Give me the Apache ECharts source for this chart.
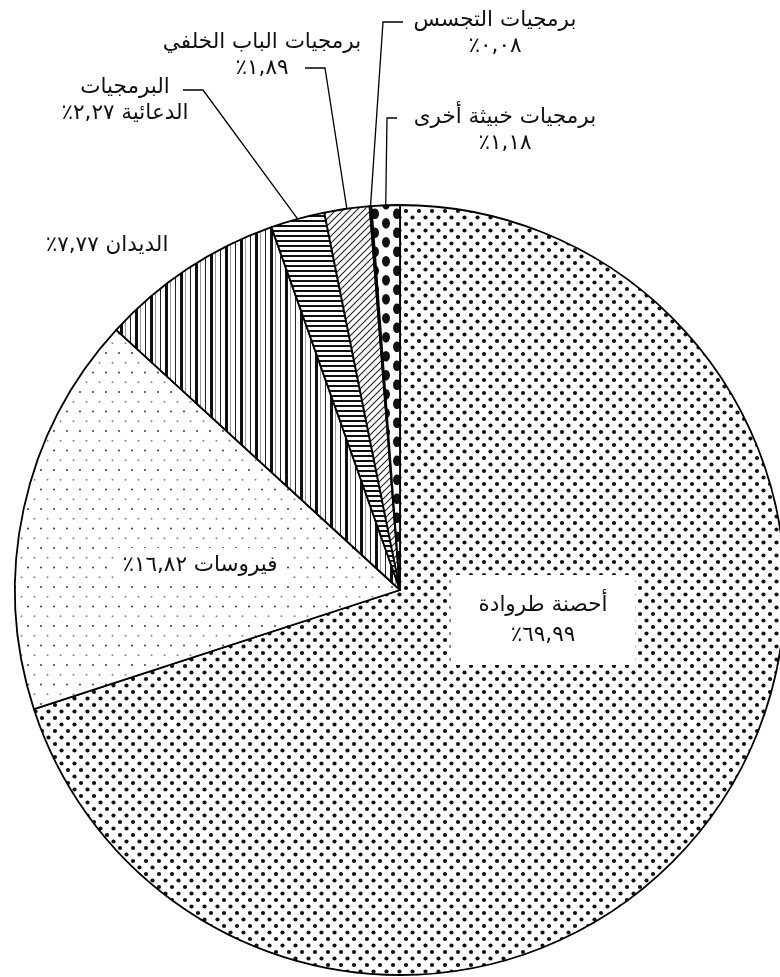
<!DOCTYPE html>
<html lang="ar">
<head>
<meta charset="utf-8">
<script src="https://cdn.jsdelivr.net/npm/echarts@6/dist/echarts.min.js"></script>
<style>
  html, body { margin: 0; padding: 0; background: #fff; }
  /* rtl so the canvas lays out the Arabic labels (and the ٪ sign) right-to-left */
  #chart { width: 780px; height: 977px; direction: rtl; }
</style>
</head>
<body>
<div id="chart"></div>
<script>
// malware share by type, % of detections
const NAMES = ['أحصنة طروادة', 'فيروسات', 'الديدان', 'البرمجيات الدعائية', 'برمجيات الباب الخلفي', 'برمجيات التجسس', 'برمجيات خبيثة أخرى'];
const VALUES = [69.99, 16.82, 7.77, 2.27, 1.89, 0.08, 1.18];
// label text per slice, {p} gets the percentage
const LABEL_TEXT = [
  'أحصنة طروادة\n{p}',
  'فيروسات {p}',
  'الديدان {p}',
  'البرمجيات\nالدعائية {p}',
  'برمجيات الباب الخلفي\n{p}',
  'برمجيات التجسس\n{p}',
  'برمجيات خبيثة أخرى\n{p}',
];

// where each label sits (centre), plus the leader bend / end relative to it
const LABEL_POS = [
  { x: 543, y: 620 },
  { x: 200, y: 565 },
  { x: 107, y: 245 },
  { x: 125, y: 100, line: [[78, -10], [58, -10]] },
  { x: 262, y: 55, line: [[63, 13], [43, 13]] },
  { x: 495, y: 33, line: [[-112, -11], [-92, -11]] },
  { x: 505, y: 130, line: [[-118, -12], [-108, -12]] },
];

function arNum(v) {
  return v.toFixed(2).replace('.', ',').replace(/\d/g, (d) => '٠١٢٣٤٥٦٧٨٩'[d]);
}

// --- fill patterns ---
function tile(w, h, draw) {
  const c = document.createElement('canvas');
  c.width = w; c.height = h;
  const ctx = c.getContext('2d');
  ctx.fillStyle = '#fff';
  ctx.fillRect(0, 0, w, h);
  draw(ctx);
  return { image: c, repeat: 'repeat' };
}
function dot(ctx, x, y, rx, ry, col) {
  ctx.fillStyle = col;
  ctx.beginPath();
  ctx.ellipse(x, y, rx, ry, 0, 0, Math.PI * 2);
  ctx.fill();
}

const PATTERNS = [
  // trojans: dense dots
  tile(13, 13, (ctx) => { dot(ctx, 3, 3, 2.1, 2.1, '#111'); dot(ctx, 9.5, 9.5, 2.1, 2.1, '#111'); }),
  // viruses: sparse fine dots
  tile(13, 39, (ctx) => {
    dot(ctx, 2, 2, 0.8, 1, '#111');
    dot(ctx, 8.5, 11.75, 1, 1, '#888');
    dot(ctx, 2, 21.5, 0.8, 1, '#111');
    dot(ctx, 8.5, 31.25, 1, 1, '#888');
  }),
  // worms: vertical stripes
  tile(15, 4, (ctx) => {
    ctx.fillStyle = '#111'; ctx.fillRect(0, 0, 3, 4);
    ctx.fillStyle = '#999'; ctx.fillRect(5, 0, 1, 4);
    ctx.fillStyle = '#222'; ctx.fillRect(10, 0, 1, 4);
  }),
  // adware: horizontal stripes
  tile(4, 5, (ctx) => { ctx.fillStyle = '#111'; ctx.fillRect(0, 0, 4, 2); }),
  // backdoor: diagonal hatch
  tile(7, 7, (ctx) => {
    ctx.strokeStyle = '#222'; ctx.lineWidth = 1.1;
    ctx.beginPath();
    ctx.moveTo(-1, 8); ctx.lineTo(8, -1);
    ctx.moveTo(-1, 1); ctx.lineTo(1, -1);
    ctx.moveTo(6, 8); ctx.lineTo(8, 6);
    ctx.stroke();
  }),
  // spyware
  '#fff',
  // other: big black dots
  tile(22, 19, (ctx) => {
    dot(ctx, 1, 4.75, 4, 5.3, '#111');
    dot(ctx, 23, 4.75, 4, 5.3, '#111');
    dot(ctx, 12, 14.25, 4, 5.3, '#111');
    dot(ctx, 12, -4.75, 4, 5.3, '#111');
    dot(ctx, 1, 23.75, 4, 5.3, '#111');
    dot(ctx, 23, 23.75, 4, 5.3, '#111');
  }),
];

const chart = echarts.init(document.getElementById('chart'), null, { renderer: 'canvas' });

const data = NAMES.map((name, i) => {
  const item = {
    name: name,
    value: VALUES[i],
    itemStyle: { color: PATTERNS[i] },
    labelLine: { show: !!LABEL_POS[i].line },
  };
  if (i === 0) {
    item.label = { backgroundColor: '#fff', padding: [15, 28], lineHeight: 30 };
  } else if (i === 1) {
    item.label = { backgroundColor: '#fff', padding: [4, 8] };
  }
  return item;
});

chart.setOption({
  animation: false,
  backgroundColor: '#fff',
  series: [{
    type: 'pie',
    silent: true,
    center: [400, 590],
    radius: 385,
    startAngle: 90,
    clockwise: true,
    avoidLabelOverlap: false,
    itemStyle: { borderColor: '#000', borderWidth: 1.8 },
    label: {
      show: true,
      position: 'outside',
      color: '#111',
      fontFamily: 'DejaVu Sans',
      fontSize: 21.5,
      lineHeight: 26,
      formatter: (p) => LABEL_TEXT[p.dataIndex].replace('{p}', arNum(p.value) + '٪'),
    },
    labelLine: { show: true, length: 10, length2: 10, lineStyle: { color: '#000', width: 1.3 } },
    labelLayout: (params) => {
      const p = LABEL_POS[params.dataIndex];
      const out = { x: p.x, y: p.y, align: 'center', verticalAlign: 'middle' };
      if (p.line && params.labelLinePoints) {
        const a = params.labelLinePoints[0];
        out.labelLinePoints = [
          [a[0], a[1]],
          [p.x + p.line[0][0], p.y + p.line[0][1]],
          [p.x + p.line[1][0], p.y + p.line[1][1]],
        ];
      }
      return out;
    },
    data: data,
  }],
});
</script>
</body>
</html>
